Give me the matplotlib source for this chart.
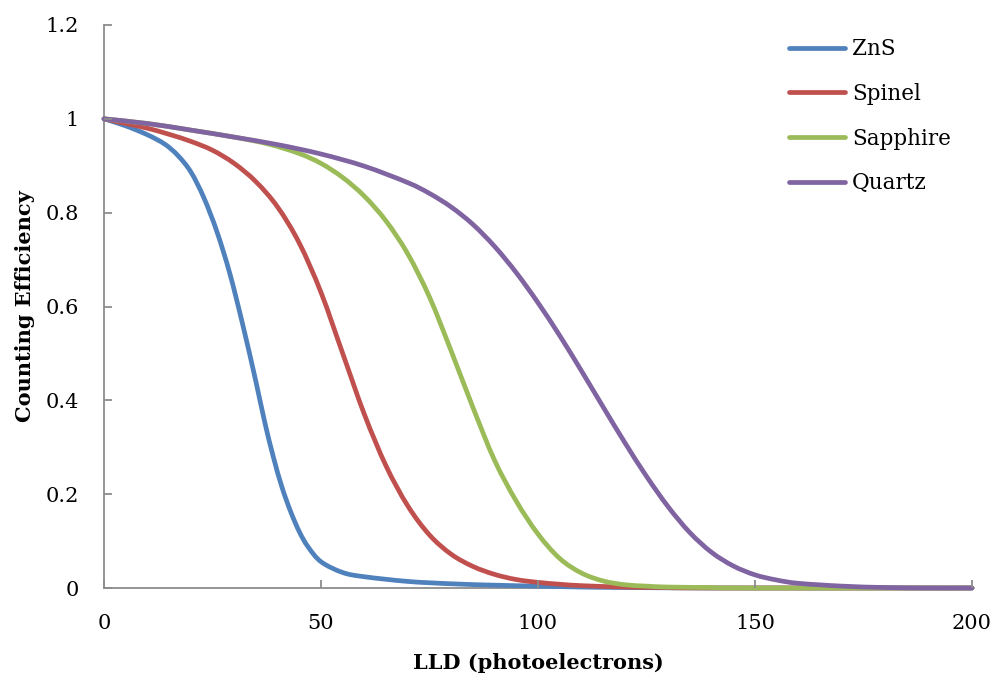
import matplotlib
matplotlib.use("Agg")
import matplotlib.pyplot as plt
from matplotlib.path import Path
from matplotlib.patches import PathPatch
from matplotlib.lines import Line2D

zns_x = [0, 5, 10, 14, 17, 20, 23, 26, 29, 32, 35, 37, 39, 41, 43, 45, 47, 50, 55, 60, 70, 80, 90, 100, 110, 120, 140, 160, 200]
zns_y = [1.0, 0.985, 0.966, 0.946, 0.922, 0.887, 0.832, 0.76, 0.67, 0.56, 0.44, 0.355, 0.28, 0.215, 0.163, 0.12, 0.088, 0.056, 0.033, 0.024, 0.014, 0.009, 0.006, 0.004, 0.002, 0.001, 0, 0, 0]

spinel_x = [0, 5, 10, 15, 20, 25, 30, 35, 40, 45, 50, 55, 60, 65, 70, 75, 80, 85, 90, 95, 100, 105, 110, 120, 130, 140, 200]
spinel_y = [1.0, 0.99, 0.98, 0.967, 0.952, 0.933, 0.905, 0.866, 0.812, 0.735, 0.63, 0.50, 0.37, 0.26, 0.175, 0.113, 0.072, 0.046, 0.029, 0.018, 0.012, 0.008, 0.005, 0.002, 0.001, 0, 0]

sapphire_x = [0, 10, 20, 30, 38, 45, 50, 55, 60, 65, 70, 75, 80, 85, 90, 95, 100, 105, 110, 115, 120, 125, 130, 140, 150, 200]
sapphire_y = [1.0, 0.99, 0.976, 0.961, 0.946, 0.926, 0.905, 0.875, 0.835, 0.782, 0.712, 0.62, 0.505, 0.385, 0.272, 0.185, 0.115, 0.063, 0.032, 0.015, 0.007, 0.004, 0.002, 0.001, 0, 0]

quartz_x = [0, 10, 20, 30, 40, 50, 60, 70, 75, 80, 85, 90, 95, 100, 105, 110, 115, 120, 125, 130, 135, 140, 145, 150, 155, 160, 170, 180, 190, 200]
quartz_y = [1.0, 0.99, 0.976, 0.961, 0.945, 0.925, 0.899, 0.864, 0.841, 0.812, 0.775, 0.728, 0.672, 0.608, 0.538, 0.463, 0.386, 0.31, 0.238, 0.173, 0.118, 0.076, 0.047, 0.028, 0.017, 0.01, 0.004, 0.001, 0, 0]

series = [
    ("ZnS", zns_x, zns_y, "#4F81BD"),
    ("Spinel", spinel_x, spinel_y, "#C0504D"),
    ("Sapphire", sapphire_x, sapphire_y, "#9BBB59"),
    ("Quartz", quartz_x, quartz_y, "#8064A2"),
]

xticks = [0, 50, 100, 150, 200]
yticks = [0, 0.2, 0.4, 0.6, 0.8, 1.0, 1.2]
ytick_labels = ["0", "0.2", "0.4", "0.6", "0.8", "1", "1.2"]


def smooth_path(xs, ys):
    """Excel-style smoothed line: cubic Bezier segments through the data points."""
    n = len(xs)
    verts = [(xs[0], ys[0])]
    codes = [Path.MOVETO]
    for i in range(n - 1):
        x0, y0 = xs[max(i - 1, 0)], ys[max(i - 1, 0)]
        x1, y1 = xs[i], ys[i]
        x2, y2 = xs[i + 1], ys[i + 1]
        x3, y3 = xs[min(i + 2, n - 1)], ys[min(i + 2, n - 1)]
        c1 = (x1 + (x2 - x0) / 6.0, y1 + (y2 - y0) / 6.0)
        c2 = (x2 - (x3 - x1) / 6.0, y2 - (y3 - y1) / 6.0)
        verts += [c1, c2, (x2, y2)]
        codes += [Path.CURVE4, Path.CURVE4, Path.CURVE4]
    return Path(verts, codes)


plt.rcParams['font.family'] = ['DejaVu Serif']

fig = plt.figure(figsize=(9.95, 6.77), dpi=100)
ax = fig.add_axes([104/995, 89/677, 868/995, 563/677])

LW = 3.4
handles = []
for name, xs, ys, c in series:
    patch = PathPatch(smooth_path(xs, ys), facecolor='none', edgecolor=c, lw=LW,
                      capstyle='round', joinstyle='round', transform=ax.transData, clip_on=False)
    ax.add_patch(patch)
    handles.append(Line2D([], [], color=c, lw=LW, solid_capstyle='round', label=name))

ax.set_xlim(0, 200)
ax.set_ylim(0, 1.2)
ax.set_xticks(xticks)
ax.set_xticklabels([str(t) for t in xticks])
ax.set_yticks(yticks)
ax.set_yticklabels(ytick_labels)

for s in ['top', 'right']:
    ax.spines[s].set_visible(False)
for s in ['left', 'bottom']:
    ax.spines[s].set_color('#8c8c8c')
    ax.spines[s].set_linewidth(1.3)
    ax.spines[s].set_zorder(0.5)
ax.tick_params(direction='in', length=6, width=1.3, color='#8c8c8c', labelsize=15, labelcolor='black')
ax.tick_params(axis='y', pad=18)
ax.tick_params(axis='x', pad=19)

ax.set_xlabel("LLD (photoelectrons)", fontsize=15, fontweight='bold', labelpad=14)
ax.set_ylabel("Counting Efficiency", fontsize=15, fontweight='bold', labelpad=8)

leg = ax.legend(handles=handles, loc='upper left', bbox_to_anchor=(770/995, 1 - 19/677),
                bbox_transform=fig.transFigure, frameon=False, fontsize=15.5,
                handlelength=2.6, handletextpad=0.3, labelspacing=1.05)

fig.savefig("out.png", dpi=100)
